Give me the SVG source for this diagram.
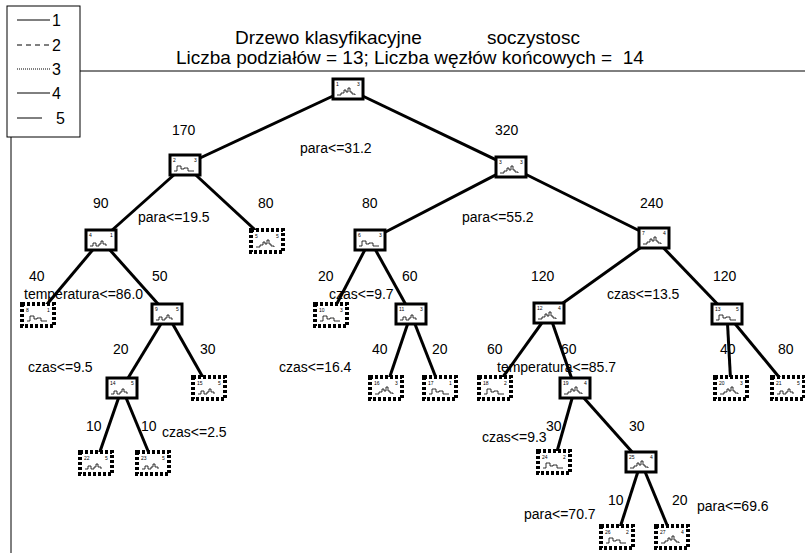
<svg xmlns="http://www.w3.org/2000/svg" xmlns:xlink="http://www.w3.org/1999/xlink" width="805" height="553" viewBox="0 0 805 553">
<style>
text{font-family:"Liberation Sans",Arial,sans-serif;fill:#000}
.t{font-size:19px}
.lb{font-size:14px}
.lg{font-size:16px}
.id{font-size:5px}
.edge{stroke:#000;stroke-width:3;fill:none}
.split{fill:#fff;stroke:#000;stroke-width:3}
.leaf{fill:#fff;stroke:#000;stroke-width:4;stroke-dasharray:3,2}
.h{fill:none;stroke:#000;stroke-width:0.8}
</style>
<defs>
<path id="hA" class="h" d="M-11,6 h4 v-2 h3 v-3 h2 v2 h2 v-4 h2 v4 h2 v2 h3 v1"/>
<path id="hB" class="h" d="M-11,6 h3 v-5 h4 v3 h3 v-1 h4 v3 h6"/>
<path id="hC" class="h" d="M-11,6 h3 v-3 h3 v3 h3 v-2 h2 v-3 h2 v3 h3 v2"/>
</defs>
<rect x="0" y="0" width="805" height="553" fill="#fff"/>
<g id="frame" stroke="#000" stroke-width="1" fill="none">
<line x1="80" y1="71" x2="805" y2="71"/>
<line x1="11" y1="137" x2="11" y2="553"/>
</g>
<g id="legend">
<rect x="7" y="6" width="73" height="131" fill="#fff" stroke="#000" stroke-width="1"/>
<line x1="17" y1="20" x2="50" y2="20" stroke="#000"/>
<text class="lg" x="52" y="26">1</text>
<line x1="17" y1="45" x2="50" y2="45" stroke="#000" stroke-dasharray="5,4"/>
<text class="lg" x="52" y="51">2</text>
<line x1="17" y1="69" x2="50" y2="69" stroke="#000" stroke-dasharray="1,1"/>
<text class="lg" x="52" y="75">3</text>
<line x1="17" y1="93" x2="50" y2="93" stroke="#000"/>
<text class="lg" x="52" y="99">4</text>
<line x1="17" y1="118" x2="42" y2="118" stroke="#000"/>
<text class="lg" x="56" y="124">5</text>
</g>
<g id="title">
<text class="t" x="235" y="44">Drzewo klasyfikacyjne</text>
<text class="t" x="487" y="44">soczystosc</text>
<text class="t" x="176" y="64" xml:space="preserve">Liczba podziałów = 13; Liczba węzłów końcowych =  14</text>
</g>
<g id="connectors">
<line class="edge" x1="348" y1="89" x2="185" y2="165"/>
<line class="edge" x1="348" y1="89" x2="511" y2="167"/>
<line class="edge" x1="185" y1="165" x2="101" y2="240"/>
<line class="edge" x1="185" y1="165" x2="267" y2="241"/>
<line class="edge" x1="511" y1="167" x2="370" y2="240"/>
<line class="edge" x1="511" y1="167" x2="654" y2="238"/>
<line class="edge" x1="101" y1="240" x2="38" y2="315"/>
<line class="edge" x1="101" y1="240" x2="167" y2="314"/>
<line class="edge" x1="370" y1="240" x2="331" y2="315"/>
<line class="edge" x1="370" y1="240" x2="411" y2="314"/>
<line class="edge" x1="654" y1="238" x2="549" y2="313"/>
<line class="edge" x1="654" y1="238" x2="727" y2="314"/>
<line class="edge" x1="167" y1="314" x2="122" y2="388"/>
<line class="edge" x1="167" y1="314" x2="209" y2="388"/>
<line class="edge" x1="411" y1="314" x2="386" y2="388"/>
<line class="edge" x1="411" y1="314" x2="440" y2="388"/>
<line class="edge" x1="549" y1="313" x2="495" y2="388"/>
<line class="edge" x1="549" y1="313" x2="575" y2="388"/>
<line class="edge" x1="727" y1="314" x2="731" y2="388"/>
<line class="edge" x1="727" y1="314" x2="788" y2="388"/>
<line class="edge" x1="122" y1="388" x2="96" y2="463"/>
<line class="edge" x1="122" y1="388" x2="153" y2="463"/>
<line class="edge" x1="575" y1="388" x2="554" y2="462"/>
<line class="edge" x1="575" y1="388" x2="641" y2="462"/>
<line class="edge" x1="641" y1="462" x2="617" y2="537"/>
<line class="edge" x1="641" y1="462" x2="672" y2="537"/>
</g>
<g id="edge-labels">
<text class="lb" x="172" y="135">170</text>
<text class="lb" x="495" y="135">320</text>
<text class="lb" x="300" y="153">para&lt;=31.2</text>
<text class="lb" x="93" y="208">90</text>
<text class="lb" x="258" y="208">80</text>
<text class="lb" x="138" y="222">para&lt;=19.5</text>
<text class="lb" x="362" y="208">80</text>
<text class="lb" x="462" y="222">para&lt;=55.2</text>
<text class="lb" x="640" y="208">240</text>
<text class="lb" x="29" y="281">40</text>
<text class="lb" x="152" y="281">50</text>
<text class="lb" x="24" y="299">temperatura&lt;=86.0</text>
<text class="lb" x="318" y="281">20</text>
<text class="lb" x="402" y="281">60</text>
<text class="lb" x="329" y="299">czas&lt;=9.7</text>
<text class="lb" x="531" y="281">120</text>
<text class="lb" x="607" y="299">czas&lt;=13.5</text>
<text class="lb" x="713" y="281">120</text>
<text class="lb" x="28" y="372">czas&lt;=9.5</text>
<text class="lb" x="113" y="354">20</text>
<text class="lb" x="200" y="354">30</text>
<text class="lb" x="279" y="372">czas&lt;=16.4</text>
<text class="lb" x="372" y="354">40</text>
<text class="lb" x="432" y="354">20</text>
<text class="lb" x="487" y="354">60</text>
<text class="lb" x="497" y="372">temperatura&lt;=85.7</text>
<text class="lb" x="561" y="354">60</text>
<text class="lb" x="720" y="354">40</text>
<text class="lb" x="778" y="354">80</text>
<text class="lb" x="86" y="431">10</text>
<text class="lb" x="141" y="431">10</text>
<text class="lb" x="162" y="437">czas&lt;=2.5</text>
<text class="lb" x="482" y="442">czas&lt;=9.3</text>
<text class="lb" x="546" y="431">30</text>
<text class="lb" x="629" y="431">30</text>
<text class="lb" x="697" y="511">para&lt;=69.6</text>
<text class="lb" x="524" y="519">para&lt;=70.7</text>
<text class="lb" x="608" y="505">10</text>
<text class="lb" x="672" y="505">20</text>
</g>
<g id="node1" transform="translate(348,89)"><rect class="split" x="-15" y="-10" width="30" height="20"/><use xlink:href="#hA"/><text class="id" x="-12" y="-3">1</text><text class="id" x="9" y="-3">3</text></g>
<g id="node2" transform="translate(185,165)"><rect class="split" x="-15" y="-10" width="30" height="20"/><use xlink:href="#hB"/><text class="id" x="-12" y="-3">2</text><text class="id" x="9" y="-3">3</text></g>
<g id="node3" transform="translate(511,167)"><rect class="split" x="-15" y="-10" width="30" height="20"/><use xlink:href="#hA"/><text class="id" x="-12" y="-3">3</text><text class="id" x="9" y="-3">3</text></g>
<g id="node4" transform="translate(101,240)"><rect class="split" x="-15" y="-10" width="30" height="20"/><use xlink:href="#hC"/><text class="id" x="-12" y="-3">4</text><text class="id" x="9" y="-3">1</text></g>
<g id="node5" transform="translate(267,241)"><rect class="leaf" x="-16" y="-11" width="32" height="22"/><use xlink:href="#hA"/><text class="id" x="-12" y="-3">5</text><text class="id" x="9" y="-3">5</text></g>
<g id="node6" transform="translate(370,240)"><rect class="split" x="-15" y="-10" width="30" height="20"/><use xlink:href="#hB"/><text class="id" x="-12" y="-3">6</text><text class="id" x="9" y="-3">3</text></g>
<g id="node7" transform="translate(654,238)"><rect class="split" x="-15" y="-10" width="30" height="20"/><use xlink:href="#hA"/><text class="id" x="-12" y="-3">7</text><text class="id" x="9" y="-3">4</text></g>
<g id="node8" transform="translate(38,315)"><rect class="leaf" x="-16" y="-11" width="32" height="22"/><use xlink:href="#hB"/><text class="id" x="-12" y="-3">8</text><text class="id" x="9" y="-3">1</text></g>
<g id="node9" transform="translate(167,314)"><rect class="split" x="-15" y="-10" width="30" height="20"/><use xlink:href="#hC"/><text class="id" x="-12" y="-3">9</text><text class="id" x="9" y="-3">5</text></g>
<g id="node10" transform="translate(331,315)"><rect class="leaf" x="-16" y="-11" width="32" height="22"/><use xlink:href="#hB"/><text class="id" x="-12" y="-3">10</text><text class="id" x="9" y="-3">3</text></g>
<g id="node11" transform="translate(411,314)"><rect class="split" x="-15" y="-10" width="30" height="20"/><use xlink:href="#hC"/><text class="id" x="-12" y="-3">11</text><text class="id" x="9" y="-3">3</text></g>
<g id="node12" transform="translate(549,313)"><rect class="split" x="-15" y="-10" width="30" height="20"/><use xlink:href="#hA"/><text class="id" x="-12" y="-3">12</text><text class="id" x="9" y="-3">4</text></g>
<g id="node13" transform="translate(727,314)"><rect class="split" x="-15" y="-10" width="30" height="20"/><use xlink:href="#hB"/><text class="id" x="-12" y="-3">13</text><text class="id" x="9" y="-3">5</text></g>
<g id="node14" transform="translate(122,388)"><rect class="split" x="-15" y="-10" width="30" height="20"/><use xlink:href="#hC"/><text class="id" x="-12" y="-3">14</text><text class="id" x="9" y="-3">5</text></g>
<g id="node15" transform="translate(209,388)"><rect class="leaf" x="-16" y="-11" width="32" height="22"/><use xlink:href="#hC"/><text class="id" x="-12" y="-3">15</text><text class="id" x="9" y="-3">5</text></g>
<g id="node16" transform="translate(386,388)"><rect class="leaf" x="-16" y="-11" width="32" height="22"/><use xlink:href="#hA"/><text class="id" x="-12" y="-3">16</text><text class="id" x="9" y="-3">3</text></g>
<g id="node17" transform="translate(440,388)"><rect class="leaf" x="-16" y="-11" width="32" height="22"/><use xlink:href="#hB"/><text class="id" x="-12" y="-3">17</text><text class="id" x="9" y="-3">1</text></g>
<g id="node18" transform="translate(495,388)"><rect class="leaf" x="-16" y="-11" width="32" height="22"/><use xlink:href="#hB"/><text class="id" x="-12" y="-3">18</text><text class="id" x="9" y="-3">2</text></g>
<g id="node19" transform="translate(575,388)"><rect class="split" x="-15" y="-10" width="30" height="20"/><use xlink:href="#hA"/><text class="id" x="-12" y="-3">19</text><text class="id" x="9" y="-3">4</text></g>
<g id="node20" transform="translate(731,388)"><rect class="leaf" x="-16" y="-11" width="32" height="22"/><use xlink:href="#hA"/><text class="id" x="-12" y="-3">20</text><text class="id" x="9" y="-3">3</text></g>
<g id="node21" transform="translate(788,388)"><rect class="leaf" x="-16" y="-11" width="32" height="22"/><use xlink:href="#hC"/><text class="id" x="-12" y="-3">21</text><text class="id" x="9" y="-3">5</text></g>
<g id="node22" transform="translate(96,463)"><rect class="leaf" x="-16" y="-11" width="32" height="22"/><use xlink:href="#hC"/><text class="id" x="-12" y="-3">22</text><text class="id" x="9" y="-3">5</text></g>
<g id="node23" transform="translate(153,463)"><rect class="leaf" x="-16" y="-11" width="32" height="22"/><use xlink:href="#hC"/><text class="id" x="-12" y="-3">23</text><text class="id" x="9" y="-3">5</text></g>
<g id="node24" transform="translate(554,462)"><rect class="leaf" x="-16" y="-11" width="32" height="22"/><use xlink:href="#hB"/><text class="id" x="-12" y="-3">24</text><text class="id" x="9" y="-3">2</text></g>
<g id="node25" transform="translate(641,462)"><rect class="split" x="-15" y="-10" width="30" height="20"/><use xlink:href="#hA"/><text class="id" x="-12" y="-3">25</text><text class="id" x="9" y="-3">4</text></g>
<g id="node26" transform="translate(617,537)"><rect class="leaf" x="-16" y="-11" width="32" height="22"/><use xlink:href="#hB"/><text class="id" x="-12" y="-3">26</text><text class="id" x="9" y="-3">2</text></g>
<g id="node27" transform="translate(672,537)"><rect class="leaf" x="-16" y="-11" width="32" height="22"/><use xlink:href="#hA"/><text class="id" x="-12" y="-3">27</text><text class="id" x="9" y="-3">4</text></g>
</svg>
